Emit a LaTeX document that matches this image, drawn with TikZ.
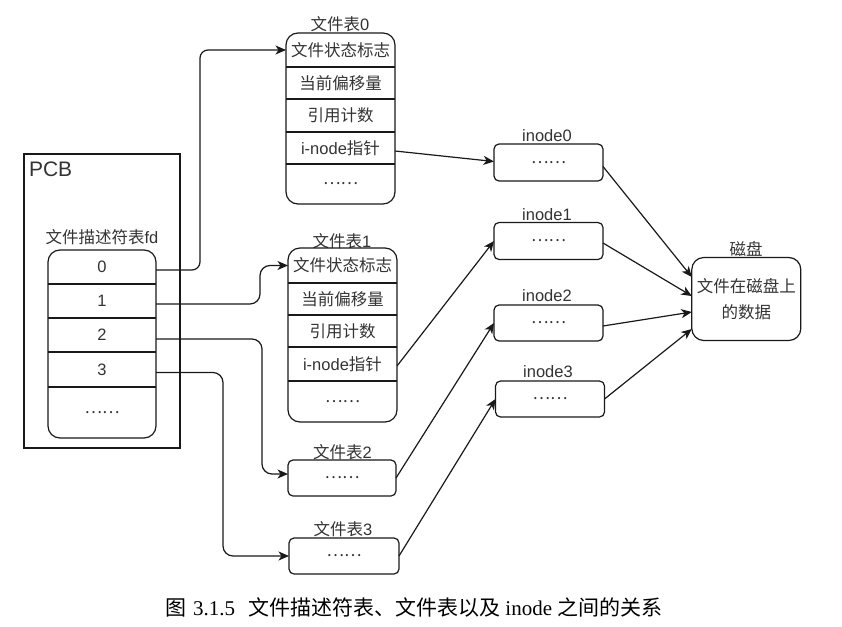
\documentclass[tikz,border=0pt]{standalone}
\usepackage{fontspec}
\setmainfont{Liberation Sans}
\newfontfamily\cjk{Noto Sans CJK SC}
\newfontfamily\lat{Liberation Sans}
\newfontfamily\ser{Liberation Serif}
\usetikzlibrary{arrows.meta,calc}
\colorlet{ink}{black!90}
\colorlet{txt}{black!80}
\begin{document}
\begin{tikzpicture}[x=1pt,y=-1pt,
  base/.style={inner sep=0pt, outer sep=0pt, text=txt, font=\cjk\fontsize{16.5}{20}\selectfont},
  fdcell/.style={base, minimum width=108pt, minimum height=#1},
  ftcell/.style={base, minimum width=109pt, minimum height=#1},
  tablebox/.style={draw=ink, line width=1.2pt, rounded corners=12pt},
  sepline/.style={draw=ink, line width=1.2pt},
  smallbox/.style={base, draw=ink, line width=1.2pt, rounded corners=5pt, minimum width=109pt, minimum height=36pt},
  arr/.style={draw=ink, line width=1.2pt, -{Stealth[length=10.5pt, width=9pt, inset=3pt]}},
  captxt/.style={inner sep=0pt, text=black, font=\fontsize{21}{25}\selectfont}
]
\useasboundingbox (0,0) rectangle (842,626);

% PCB box
\node[draw=ink, line width=1.2pt, inner sep=0pt, minimum width=156pt, minimum height=294pt] (pcb) at (102,301) {};
\node[base, font=\lat\fontsize{21}{25}\selectfont, anchor=west] (pcblab) at (29,169) {PCB};

% fd table
\node[base] (fdlab) at (102,237) {文件描述符表{\lat fd}};
\node[fdcell=34pt] (fd0) at (102,267) {\lat 0};
\node[fdcell=34pt] (fd1) at (102,301) {\lat 1};
\node[fdcell=34pt] (fd2) at (102,335) {\lat 2};
\node[fdcell=35pt] (fd3) at (102,369.5) {\lat 3};
\node[fdcell=51pt] (fd4) at (102,412.5) {……};
\draw[tablebox] (fd0.north west) rectangle (fd4.south east);
\foreach \r in {fd0,fd1,fd2,fd3} \draw[sepline] (\r.south west) -- (\r.south east);

% file table 0
\node[base] (ft0lab) at (340,24) {文件表{\lat 0}};
\node[ftcell=34pt] (ft0r1) at (340.5,50) {文件状态标志};
\node[ftcell=32pt] (ft0r2) at (340.5,83) {当前偏移量};
\node[ftcell=33pt] (ft0r3) at (340.5,115.5) {引用计数};
\node[ftcell=32pt] (ft0r4) at (340.5,148) {{\lat i-node}指针};
\node[ftcell=40pt] (ft0r5) at (340.5,184) {……};
\draw[tablebox] (ft0r1.north west) rectangle (ft0r5.south east);
\foreach \r in {ft0r1,ft0r2,ft0r3,ft0r4} \draw[sepline] (\r.south west) -- (\r.south east);

% file table 1
\node[base] (ft1lab) at (342,241) {文件表{\lat 1}};
\node[ftcell=35pt] (ft1r1) at (342.5,265.5) {文件状态标志};
\node[ftcell=32pt] (ft1r2) at (342.5,299) {当前偏移量};
\node[ftcell=32pt] (ft1r3) at (342.5,331) {引用计数};
\node[ftcell=34pt] (ft1r4) at (342.5,364) {{\lat i-node}指针};
\node[ftcell=41pt] (ft1r5) at (342.5,401.5) {……};
\draw[tablebox] (ft1r1.north west) rectangle (ft1r5.south east);
\foreach \r in {ft1r1,ft1r2,ft1r3,ft1r4} \draw[sepline] (\r.south west) -- (\r.south east);

% file tables 2 and 3
\node[base] (ft2lab) at (342.5,452) {文件表{\lat 2}};
\node[smallbox, minimum width=108pt] (ft2) at (342,478) {……};
\node[base] (ft3lab) at (343,529) {文件表{\lat 3}};
\node[smallbox, minimum width=110pt] (ft3) at (344,556) {……};

% inodes
\node[base, font=\lat\fontsize{16.5}{20}\selectfont] (in0lab) at (547,136) {inode0};
\node[smallbox, minimum height=37pt] (in0) at (548.5,162.5) {……};
\node[base, font=\lat\fontsize{16.5}{20}\selectfont] (in1lab) at (547,214.5) {inode1};
\node[smallbox, minimum height=37pt] (in1) at (548.5,241) {……};
\node[base, font=\lat\fontsize{16.5}{20}\selectfont] (in2lab) at (547,296) {inode2};
\node[smallbox] (in2) at (548.5,323) {……};
\node[base, font=\lat\fontsize{16.5}{20}\selectfont] (in3lab) at (548,372) {inode3};
\node[smallbox] (in3) at (550,399) {……};

% disk
\node[base] (disklab) at (746,249) {磁盘};
\node[base, draw=ink, line width=1.2pt, rounded corners=12pt, minimum width=109pt, minimum height=83pt,
      align=center, font=\cjk\fontsize{16.5}{26.5}\selectfont] (disk) at (746.3,299) {文件在磁盘上\\的数据};

% fd -> file tables
\draw[arr, rounded corners=8pt] ([yshift=-3pt]fd0.east) -- ++(44,0) |- (ft0r1.west);
\draw[arr, rounded corners=10pt] ([yshift=-3pt]fd1.east) -- ++(104,0) |- (ft1r1.west);
\draw[arr, rounded corners=10pt] ([yshift=-4pt]fd2.east) -- ++(106,0) |- ([yshift=4pt]ft2.west);
\draw[arr, rounded corners=10pt] ([yshift=-3pt]fd3.east) -- ++(67,0) |- (ft3.west);

% file tables -> inodes
\draw[arr] ([yshift=-3pt]ft0r4.east) -- ([yshift=1pt]in0.west);
\draw[arr] ([yshift=-2pt]ft1r4.east) -- (in1.west);
\draw[arr] (ft2.east) -- (in2.west);
\draw[arr] (ft3.east) -- (in3.west);

% inodes -> disk
\draw[arr] ([yshift=-4pt]in0.east) -- ([yshift=22pt]disk.west);
\draw[arr] ([yshift=-2pt]in1.east) -- ([yshift=3pt]disk.west);
\draw[arr] ([yshift=-3pt]in2.east) -- ([yshift=-13pt]disk.west);
\draw[arr] (in3.east) -- ([yshift=-30pt]disk.west);

% caption
\node[captxt, anchor=west] (caption) at (165,607) {{\cjk 图}\hspace{7pt}{\ser 3.1.5}\hspace{13pt}{\cjk 文件描述符表、文件表以及}{\ser\ inode\ }{\cjk 之间的关系}};
\end{tikzpicture}
\end{document}
